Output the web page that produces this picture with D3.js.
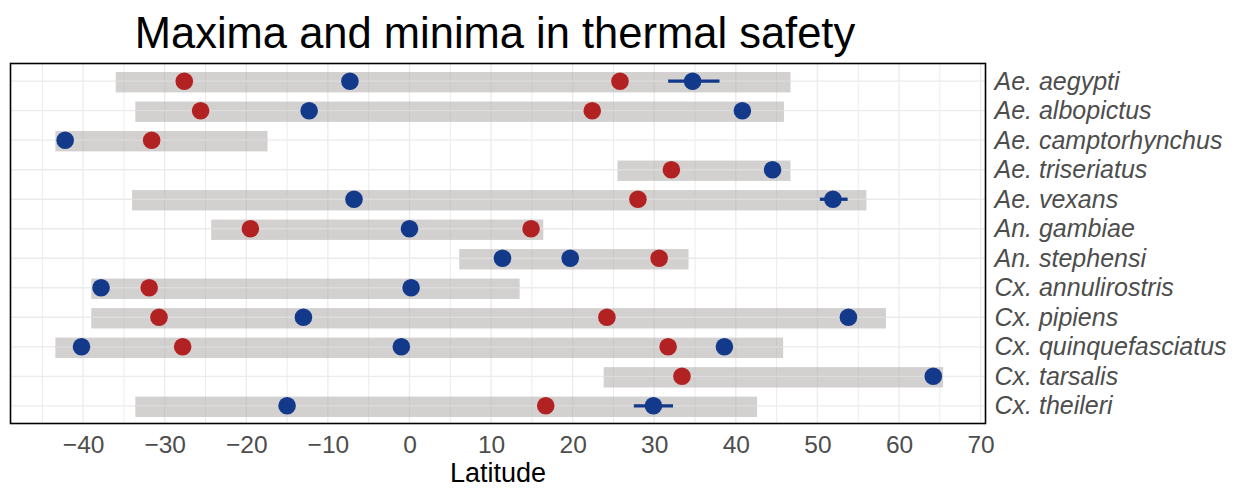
<!DOCTYPE html>
<html>
<head>
<meta charset="utf-8">
<script src="https://cdn.jsdelivr.net/npm/d3@7"></script>
<style>
  body { margin: 0; background: #fff; }
  svg { display: block; font-family: "Liberation Sans", Arial, Helvetica, sans-serif; }
</style>
</head>
<body>
<div id="chart"></div>
<script>
// species, top to bottom
var species = ["Ae. aegypti", "Ae. albopictus", "Ae. camptorhynchus", "Ae. triseriatus",
  "Ae. vexans", "An. gambiae", "An. stephensi", "Cx. annulirostris", "Cx. pipiens",
  "Cx. quinquefasciatus", "Cx. tarsalis", "Cx. theileri"]

// latitude range of each species (grey bars)
var rangeLo = [-36.0, -33.6, -43.4, 25.5, -34.0, -24.3, 6.1, -39.0, -39.0, -43.4, 23.8, -33.6]
var rangeHi = [46.7, 45.9, -17.4, 46.7, 56.0, 16.4, 34.2, 13.5, 58.4, 45.8, 65.4, 42.6]

// maxima in thermal safety (red)  [species, latitude]
var maxima = [
  ["Ae. aegypti", -27.6], ["Ae. aegypti", 25.8],
  ["Ae. albopictus", -25.6], ["Ae. albopictus", 22.4],
  ["Ae. camptorhynchus", -31.6],
  ["Ae. triseriatus", 32.1],
  ["Ae. vexans", 28.0],
  ["An. gambiae", -19.5], ["An. gambiae", 14.9],
  ["An. stephensi", 30.6],
  ["Cx. annulirostris", -31.9],
  ["Cx. pipiens", -30.7], ["Cx. pipiens", 24.2],
  ["Cx. quinquefasciatus", -27.8], ["Cx. quinquefasciatus", 31.7],
  ["Cx. tarsalis", 33.4],
  ["Cx. theileri", 16.7]
]

// minima in thermal safety (blue)  [species, latitude]
var minima = [
  ["Ae. aegypti", -7.3], ["Ae. aegypti", 34.7],
  ["Ae. albopictus", -12.3], ["Ae. albopictus", 40.8],
  ["Ae. camptorhynchus", -42.2],
  ["Ae. triseriatus", 44.5],
  ["Ae. vexans", -6.8], ["Ae. vexans", 51.9],
  ["An. gambiae", 0.0],
  ["An. stephensi", 11.4], ["An. stephensi", 19.7],
  ["Cx. annulirostris", -37.8], ["Cx. annulirostris", 0.2],
  ["Cx. pipiens", -13.0], ["Cx. pipiens", 53.8],
  ["Cx. quinquefasciatus", -40.2], ["Cx. quinquefasciatus", -1.0], ["Cx. quinquefasciatus", 38.6],
  ["Cx. tarsalis", 64.2],
  ["Cx. theileri", -15.0], ["Cx. theileri", 29.9]
]

// error bars on some minima  [species, low, high]
var minErr = [
  ["Ae. aegypti", 31.7, 38.0],
  ["Ae. vexans", 50.3, 53.7],
  ["Cx. theileri", 27.5, 32.3]
]

var xTicks = [-40, -30, -20, -10, 0, 10, 20, 30, 40, 50, 60, 70]
var xMinor = [-45, -35, -25, -15, -5, 5, 15, 25, 35, 45, 55, 65]

var width = 1240
var height = 489
var margin = ({top: 63.5, right: 254.5, bottom: 65.5, left: 10.5})

var red = "#b22222"
var blue = "#12398a"

var x = d3.scaleLinear()
  .domain([-48.9, 70.6])
  .range([margin.left, width - margin.right])

var y = d3.scalePoint()
  .domain(species)
  .range([margin.top, height - margin.bottom])
  .padding(0.6)

var step = y.step()

var svg = d3.select("#chart").append("svg")
  .attr("width", width)
  .attr("height", height)

// grid
var grid = svg.append("g")
  .attr("stroke", "#ebebeb")
  .attr("fill", "none")

grid.selectAll(".minor")
  .data(xMinor)
  .join("line")
  .attr("x1", d => x(d)).attr("x2", d => x(d))
  .attr("y1", margin.top).attr("y2", height - margin.bottom)
  .attr("stroke-width", 1)

grid.selectAll(".major")
  .data(xTicks)
  .join("line")
  .attr("x1", d => x(d)).attr("x2", d => x(d))
  .attr("y1", margin.top).attr("y2", height - margin.bottom)
  .attr("stroke-width", 1.3)

grid.selectAll(".hz")
  .data(species)
  .join("line")
  .attr("x1", margin.left).attr("x2", width - margin.right)
  .attr("y1", d => y(d)).attr("y2", d => y(d))
  .attr("stroke-width", 1.3)

// latitude ranges
svg.append("g")
  .selectAll("rect")
  .data(species)
  .join("rect")
  .attr("x", (d, i) => x(rangeLo[i]))
  .attr("width", (d, i) => x(rangeHi[i]) - x(rangeLo[i]))
  .attr("y", d => y(d) - step * 0.69 / 2 + 1)
  .attr("height", step * 0.69)
  .attr("fill", "#aeaaaa")
  .attr("fill-opacity", 0.55)

// redraw horizontal grid over the bars faintly (bars are translucent in original)
svg.append("g")
  .selectAll("line")
  .data(species)
  .join("line")
  .attr("x1", (d, i) => x(rangeLo[i])).attr("x2", (d, i) => x(rangeHi[i]))
  .attr("y1", d => y(d)).attr("y2", d => y(d))
  .attr("stroke", "#ebebeb")
  .attr("stroke-opacity", 0.6)
  .attr("stroke-width", 1.3)

// error bars
svg.append("g")
  .selectAll("line")
  .data(minErr)
  .join("line")
  .attr("x1", d => x(d[1])).attr("x2", d => x(d[2]))
  .attr("y1", d => y(d[0])).attr("y2", d => y(d[0]))
  .attr("stroke", blue)
  .attr("stroke-width", 3.3)

svg.append("g")
  .selectAll("circle")
  .data(maxima)
  .join("circle")
  .attr("cx", d => x(d[1]))
  .attr("cy", d => y(d[0]))
  .attr("r", 8.8)
  .attr("fill", red)

svg.append("g")
  .selectAll("circle")
  .data(minima)
  .join("circle")
  .attr("cx", d => x(d[1]))
  .attr("cy", d => y(d[0]))
  .attr("r", 8.8)
  .attr("fill", blue)

// panel border
svg.append("rect")
  .attr("x", margin.left)
  .attr("y", margin.top)
  .attr("width", width - margin.left - margin.right)
  .attr("height", height - margin.top - margin.bottom)
  .attr("fill", "none")
  .attr("stroke", "#000")
  .attr("stroke-width", 1.6)

// x axis
var xAxis = g => g
  .attr("transform", `translate(0,${height - margin.bottom})`)
  .call(d3.axisBottom(x).tickValues(xTicks).tickSize(0).tickPadding(12)
    .tickFormat(d => d < 0 ? "\u2212" + Math.abs(d) : d))
  .call(g => g.select(".domain").remove())
  .call(g => g.selectAll("text")
    .attr("fill", "#4d4d4d")
    .attr("font-size", 24.5)
    .attr("font-family", "Liberation Sans, Arial, sans-serif"))

svg.append("g").call(xAxis)

// species labels on the right
var yAxis = g => g
  .attr("transform", `translate(${width - margin.right},0)`)
  .call(d3.axisRight(y).tickSize(0).tickPadding(9))
  .call(g => g.select(".domain").remove())
  .call(g => g.selectAll("text")
    .attr("fill", "#4d4d4d")
    .attr("font-size", 25)
    .attr("font-style", "italic")
    .attr("font-family", "Liberation Sans, Arial, sans-serif"))

svg.append("g").call(yAxis)

svg.append("text")
  .attr("x", (margin.left + width - margin.right) / 2)
  .attr("y", 482)
  .attr("text-anchor", "middle")
  .attr("font-size", 27)
  .attr("fill", "#000")
  .text("Latitude")

svg.append("text")
  .attr("x", (margin.left + width - margin.right) / 2 - 3)
  .attr("y", 48)
  .attr("text-anchor", "middle")
  .attr("font-size", 43.5)
  .attr("fill", "#000")
  .text("Maxima and minima in thermal safety")
</script>
</body>
</html>
